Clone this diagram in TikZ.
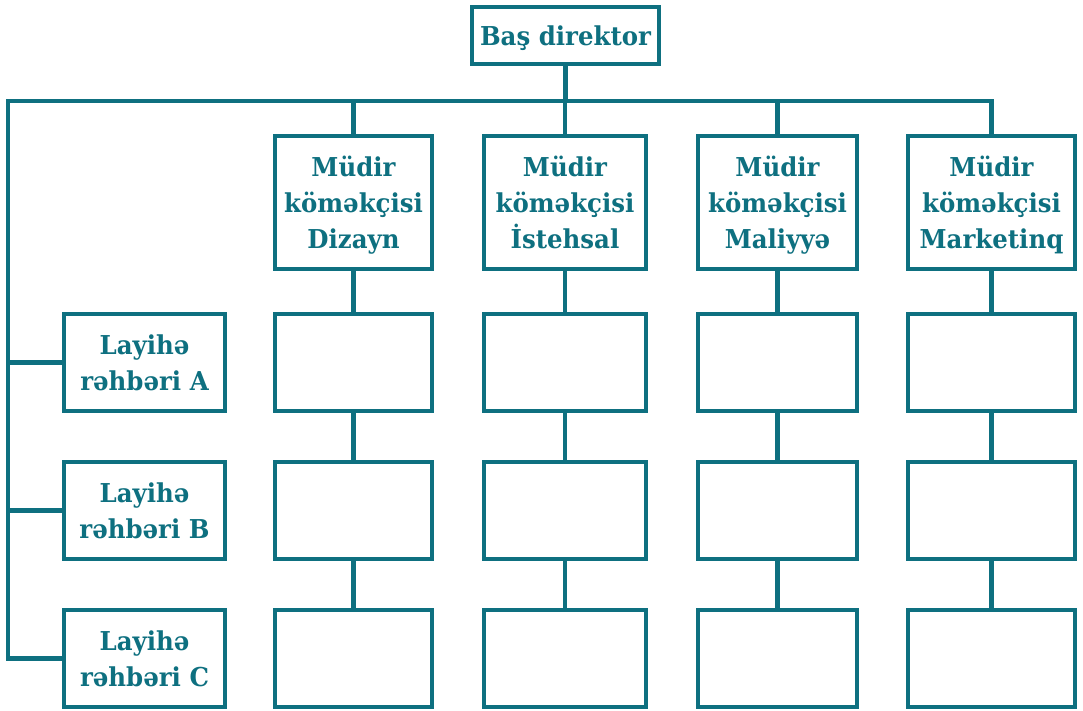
\documentclass[tikz,border=0pt]{standalone}
\usepackage{fontspec}
\setmainfont{DejaVu Serif}
\newfontfamily\boxfont{DejaVu Serif}[FakeStretch=0.94]
\definecolor{orgteal}{RGB}{14,112,128}
\tikzset{
	box/.style={draw=orgteal, line width=4.4pt, fill=white, inner sep=0pt, align=center, text depth=0pt, text=orgteal, font=\boxfont\bfseries\fontsize{26}{36}\selectfont},
	cell/.style={box, minimum height=97pt},
	lead/.style={box, minimum width=161pt, minimum height=97pt},
	link/.style={draw=orgteal, line width=4.4pt}
}
\begin{document}
\begin{tikzpicture}[x=1pt, y=-1pt]
	\useasboundingbox (0,0) rectangle (1083,710);
	\node[box, minimum width=187pt, minimum height=57pt] (top) at (565.5,35.5) {Baş direktor};

	% deputies and their empty boxes
	\foreach \i/\x/\w/\t in {1/353.5/157/Dizayn, 2/565/162/İstehsal, 3/777.5/159/Maliyyə, 4/991.5/167/Marketinq} {
		\node[box, minimum width=\w pt, minimum height=133pt] (m\i) at (\x,202.5) {Müdir\\köməkçisi\\\t};
		\foreach \r/\y in {1/362.5, 2/510.5, 3/658.5}
			\node[cell, minimum width=\w pt] (c\r\i) at (\x,\y) {};
	}
	\foreach \r/\y/\l in {1/362.5/A, 2/510.5/B, 3/658.5/C}
		\node[lead] (lead\r) at (144.5,\y) {Layihə\\rəhbəri \l};

	\coordinate (bus) at (8,101);
	\draw[link] (top.south) -- (top.south |- bus);
	\draw[link] (m4.north) |- (bus) |- (lead3.west);
	\foreach \i in {1,2,3}
		\draw[link] (m\i.north) -- (m\i.north |- bus);
	\foreach \r in {1,2}
		\draw[link] (bus |- lead\r.west) -- (lead\r.west);
	\foreach \i in {1,...,4} {
		\draw[link] (m\i) -- (c1\i);
		\draw[link] (c1\i) -- (c2\i);
		\draw[link] (c2\i) -- (c3\i);
	}
\end{tikzpicture}
\end{document}
